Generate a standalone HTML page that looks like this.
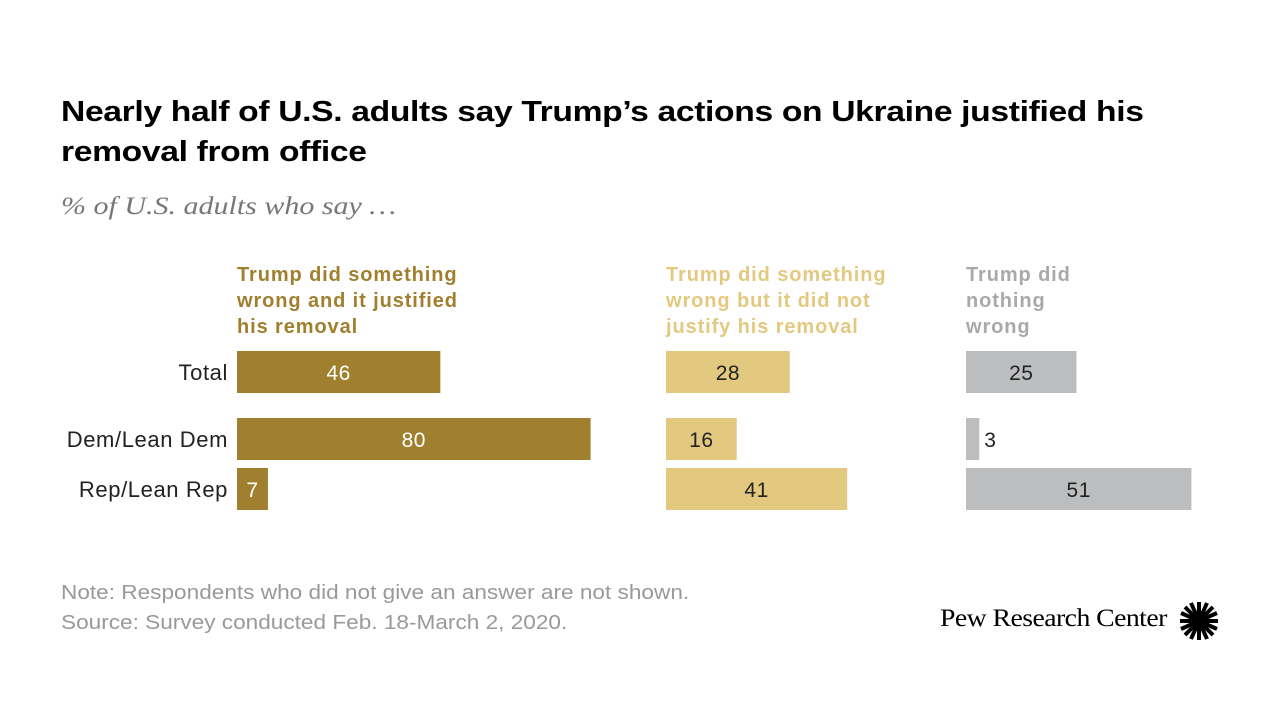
<!DOCTYPE html>
<html><head><meta charset="utf-8"><style>
body{margin:0;width:1280px;height:720px;background:#fff;font-family:"Liberation Sans",sans-serif;position:relative;overflow:hidden}
.t{position:absolute;white-space:nowrap;transform-origin:0 0}
</style></head><body>
<div class="t" style="left:61px;top:92px;font-size:29px;font-weight:bold;line-height:40px;color:#000;letter-spacing:-0.3px;transform:scaleX(1.16)">Nearly half of U.S. adults say Trump’s actions on Ukraine justified his<br>removal from office</div>
<div class="t" style="left:61px;top:193px;font-size:25px;font-style:italic;font-family:'Liberation Serif',serif;color:#777;transform:scaleX(1.2)">% of U.S. adults who say …</div>
<svg id="c" width="1280" height="720" style="position:absolute;left:0;top:0"></svg>
<div class="t" style="left:61px;top:578px;font-size:20px;color:#999;line-height:30px;transform:scaleX(1.13)">Note: Respondents who did not give an answer are not shown.<br>Source: Survey conducted Feb. 18-March 2, 2020.</div>
<div class="t" style="left:940px;top:605px;font-size:25px;font-family:'Liberation Serif',serif;color:#000;letter-spacing:-0.5px;transform:scaleX(1.11)">Pew Research Center</div>
<svg style="position:absolute;left:1178px;top:600px" width="42" height="42">
<g stroke="#000" stroke-width="4">
<line x1="21" y1="2" x2="21" y2="40"/><line x1="2" y1="21" x2="40" y2="21"/>
<line x1="7" y1="7" x2="35" y2="35"/><line x1="35" y1="7" x2="7" y2="35"/>
<line x1="13" y1="3" x2="29" y2="39"/><line x1="29" y1="3" x2="13" y2="39"/>
<line x1="3" y1="13" x2="39" y2="29"/><line x1="3" y1="29" x2="39" y2="13"/></g>
<circle cx="21" cy="21" r="5" fill="#000"/></svg>
<script>
const categories=["Total","Dem/Lean Dem","Rep/Lean Rep"];
const seriesNames=["Trump did something\nwrong and it justified\nhis removal","Trump did something\nwrong but it did not\njustify his removal","Trump did\nnothing\nwrong"];
const justified=[46,80,7];
const notJustify=[28,16,41];
const nothingWrong=[25,3,51];
const series=[justified,notJustify,nothingWrong];
const colors=["#a0802e","#e3c97f","#bcbdbf"];
const headColors=["#a0802e","#e3c97f","#a9a9ab"];
const starts=[237,666,966];
const rowY=[351,418,468];
const scale=4.42, barH=42;
const x=(g,v)=>starts[g]+v*scale;
const svg=document.getElementById('c');
const NS='http://www.w3.org/2000/svg';
function mk(tag,a){const e=document.createElementNS(NS,tag);for(const k in a)e.setAttribute(k,a[k]);svg.appendChild(e);return e;}
categories.forEach((c,i)=>{
 const t=mk('text',{x:228,y:rowY[i]+barH/2+8,'text-anchor':'end','font-size':22,'letter-spacing':0.6,fill:'#222'});
 t.textContent=c;
 
 
});
series.forEach((s,g)=>{
 seriesNames[g].split('\n').forEach((ln,j)=>{
  const t=mk('text',{x:starts[g],y:281+j*26,'font-size':20,'letter-spacing':0.9,'font-weight':'bold',fill:headColors[g]});
  t.textContent=ln;
  
  
 });
 s.forEach((v,i)=>{
  const w=x(g,v)-starts[g];
  const r=mk('rect',{x:starts[g],y:rowY[i],width:w,height:barH,fill:colors[g]});
  
  
  const inside=w>30;
  const t=mk('text',{x:inside?starts[g]+w/2:x(g,v)+5,y:rowY[i]+barH/2+8,'text-anchor':inside?'middle':'start','font-size':21,'letter-spacing':0.5,fill:g==0?'#fff':'#222'});
  if(g==0&&!inside){t.setAttribute('x',starts[g]+w/2);t.setAttribute('text-anchor','middle');}
  t.textContent=v;
  
  
 });
});
</script>
</body></html>
